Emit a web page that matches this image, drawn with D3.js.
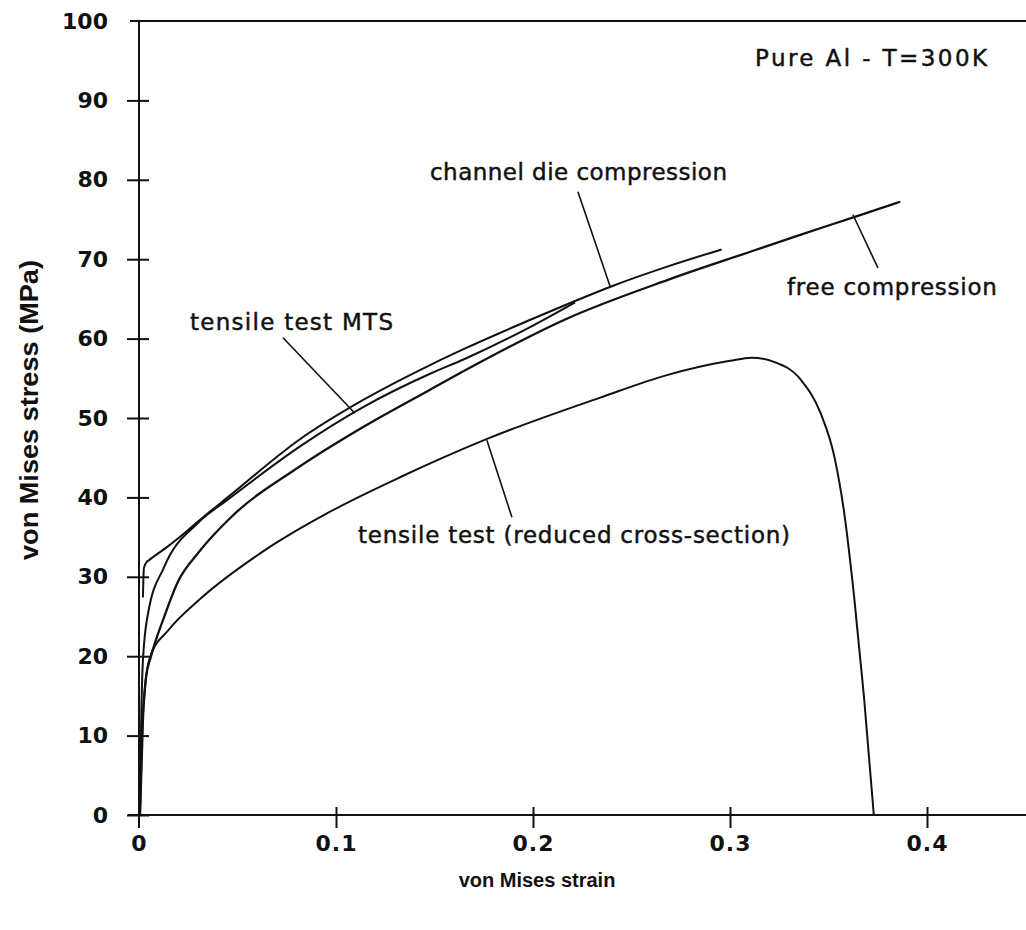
<!DOCTYPE html>
<html>
<head>
<meta charset="utf-8">
<script src="https://cdn.jsdelivr.net/npm/d3@7"></script>
<style>
body{margin:0;background:#fff;}
svg{display:block;}
.curve{fill:none;stroke:#111;stroke-width:2;stroke-linejoin:round;stroke-linecap:round;}
.lead{stroke:#111;stroke-width:1.6;}
.axisline{stroke:#111;stroke-width:2;}
.tk text{font-family:"DejaVu Sans",sans-serif;font-weight:bold;font-size:22px;fill:#111;}
.tk line{stroke:#111;stroke-width:2;}
.lbl{font-family:"DejaVu Sans",sans-serif;font-size:23px;fill:#111;stroke:#111;stroke-width:0.45;}
.ttl{font-family:"Liberation Sans",Arial,sans-serif;font-weight:bold;fill:#111;}
</style>
</head>
<body>
<svg id="chart" width="1026" height="930"></svg>
<script>
// curves (strain, MPa)
var strainChannel=[0.002,0.0022,0.0025,0.004,0.0045,0.015,0.025,0.033,0.045,0.081,0.114,0.148,0.165,0.199,0.221,0.240,0.2685,0.2954];
var stressChannel=[27.5,29.5,31.1,31.9,32.0,33.9,35.9,37.6,40.0,47.2,52.3,56.7,58.7,62.4,64.7,66.6,69.1,71.2];

var strainMTS=[0.0005,0.001,0.002,0.0046,0.0127,0.030,0.045,0.081,0.114,0.148,0.165,0.199,0.221];
var stressMTS=[0,10,19.5,25.4,31.2,36.8,39.7,46.3,51.4,55.6,57.4,61.5,64.5];

var strainFree=[0.0005,0.002,0.0036,0.006,0.0127,0.020,0.030,0.0467,0.081,0.114,0.148,0.167,0.218,0.2685,0.311,0.336,0.363,0.386];
var stressFree=[0,12,17.4,19.9,24.9,29.5,33.0,37.5,43.8,48.9,53.6,56.2,62.6,67.4,71.0,73.1,75.3,77.2];

var strainTensile=[0.0005,0.0015,0.003,0.0056,0.015,0.031,0.063,0.097,0.133,0.177,0.2345,0.268,0.300,0.311,0.322,0.336,0.346,0.353,0.358,0.363,0.368,0.373];
var stressTensile=[0,10,16,19.9,23.3,27.2,33.2,38.2,42.6,47.4,52.6,55.4,57.2,57.6,57.1,54.8,50.6,45.1,38.0,27.5,14.9,0];

var yTicks=[0,10,20,30,40,50,60,70,80,90,100];
var xTicks=[0,0.1,0.2,0.3,0.4];
var xTickLabels=["0","0.1","0.2","0.3","0.4"];

var labelText=["channel die compression","tensile test MTS","tensile test (reduced cross-section)","free compression","Pure Al - T=300K"];
var labelStrain=[0.1477,0.0259,0.1112,0.3289,0.3127];
var labelStress=[80.0,61.1,34.3,65.5,94.3];

var leadFrom=[[0.2228,78.5],[0.0731,60.1],[0.1766,47.2],[0.3624,75.6]];
var leadTo=[[0.2391,66.6],[0.1096,50.6],[0.1893,37.5],[0.3751,68.9]];

// layout
var W=1026, H=930;
var labelWidth=[297,203,432,210,232];
var svg=d3.select("#chart");

var x=d3.scaleLinear().domain([0,0.45]).range([139,139+0.45*1970]);
var y=d3.scaleLinear().domain([0,100]).range([815,21]);

// frame lines: top border, x axis line, y axis line
svg.append("line").attr("class","axisline")
  .attr("x1",130).attr("x2",W).attr("y1",y(100)).attr("y2",y(100));
svg.append("line").attr("class","axisline")
  .attr("x1",128).attr("x2",W).attr("y1",y(0)).attr("y2",y(0));
svg.append("line").attr("class","axisline")
  .attr("x1",x(0)).attr("x2",x(0)).attr("y1",y(100)).attr("y2",828);

// y axis ticks cross the line
var gy=svg.append("g").attr("class","tk")
  .attr("transform","translate("+x(0)+",0)")
  .call(d3.axisLeft(y).tickValues(yTicks).tickSize(12).tickPadding(19).tickFormat(d3.format("d")));
gy.select(".domain").remove();
gy.selectAll(".tick line").attr("x1",10);
gy.selectAll(".tick text").attr("fill","#111");
gy.selectAll(".tick").filter(function(d){return d==100;}).select("line").remove();

// x axis, labels below
var gx=svg.append("g").attr("class","tk")
  .attr("transform","translate(0,"+y(0)+")")
  .call(d3.axisBottom(x).tickValues(xTicks).tickSize(13).tickPadding(0)
    .tickFormat(function(d,i){return xTickLabels[i];}));
gx.select(".domain").remove();
gx.selectAll(".tick line").attr("y1",-8);
gx.selectAll(".tick").filter(function(d){return d==0;}).select("line").remove();
gx.selectAll(".tick text").attr("y",28).attr("dy","0.35em").attr("fill","#111")
  .attr("letter-spacing","1px");

// curves
var line=d3.line()
  .x(function(d){return x(d[0]);})
  .y(function(d){return y(d[1]);})
  .curve(d3.curveMonotoneX);

function zip(a,b){return a.map(function(v,i){return [v,b[i]];});}
var curves=[zip(strainChannel,stressChannel),zip(strainMTS,stressMTS),zip(strainFree,stressFree),zip(strainTensile,stressTensile)];

svg.append("g").selectAll("path")
  .data(curves)
  .enter().append("path")
  .attr("class","curve")
  .attr("stroke-width",function(d,i){return i==2?2.3:2;})
  .style("stroke-width",function(d,i){return i==2?"2.3px":null;})
  .attr("d",line);

// leader lines
svg.append("g").selectAll("line")
  .data(leadFrom)
  .enter().append("line")
  .attr("class","lead")
  .attr("x1",function(d){return x(d[0]);})
  .attr("y1",function(d){return y(d[1]);})
  .attr("x2",function(d,i){return x(leadTo[i][0]);})
  .attr("y2",function(d,i){return y(leadTo[i][1]);});

// labels
svg.append("g").selectAll("text")
  .data(labelText)
  .enter().append("text")
  .attr("class","lbl")
  .attr("x",function(d,i){return x(labelStrain[i]);})
  .attr("y",function(d,i){return y(labelStress[i]);})
  .attr("textLength",function(d,i){return labelWidth[i];})
  .attr("lengthAdjust","spacing")
  .text(function(d){return d;});

// axis titles
svg.append("text").attr("class","ttl")
  .attr("x",537).attr("y",887)
  .attr("text-anchor","middle")
  .style("font-size","20px")
  .text("von Mises strain");

svg.append("text").attr("class","ttl")
  .attr("transform","translate(38,410) rotate(-90)")
  .attr("text-anchor","middle")
  .attr("textLength",300)
  .attr("lengthAdjust","spacingAndGlyphs")
  .style("font-family","'Liberation Sans Narrow','Liberation Sans',sans-serif")
  .style("font-size","26px")
  .text("von Mises stress (MPa)");
</script>
</body>
</html>
